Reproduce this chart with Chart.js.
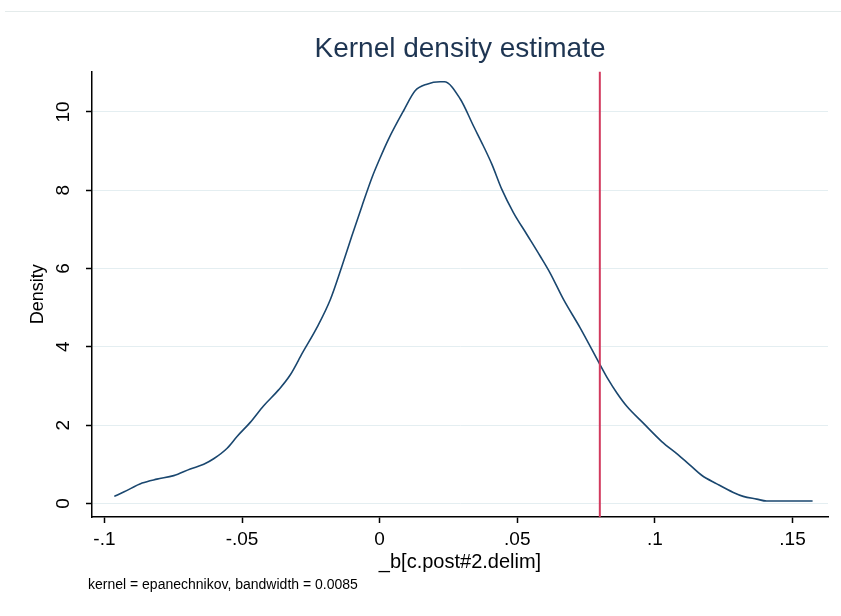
<!DOCTYPE html>
<html>
<head>
<meta charset="utf-8">
<title>Kernel density estimate</title>
<script src="https://cdn.jsdelivr.net/npm/chart.js@4.4.1/dist/chart.umd.min.js"></script>
<style>
  html, body { margin: 0; padding: 0; background: #fff; }
  #wrap { position: relative; width: 841px; height: 616px; overflow: hidden; }
  #topline { position: absolute; left: 5px; right: 0; top: 11px; height: 1px; background: #e4ebeb; }
  #chart { position: absolute; left: 0; top: 0; }
</style>
</head>
<body>
<div id="wrap">
  <div id="topline"></div>
  <canvas id="chart" width="841" height="616"></canvas>
</div>
<script>
// =========================
// DATA
// =========================
const densityX = [
  -0.0964, -0.0930, -0.0863, -0.0809, -0.0748, -0.0688, -0.0639, -0.0603,
  -0.0554, -0.0518, -0.0470, -0.0422, -0.0367, -0.0325, -0.0280, -0.0228,
  -0.0179, -0.0137, -0.0101, -0.0064, -0.0028, 0.0002, 0.0032, 0.0087,
  0.0129, 0.0172, 0.0220, 0.0235, 0.0293, 0.0341, 0.0377, 0.0408,
  0.0444, 0.0486, 0.0535, 0.0583, 0.0619, 0.0668, 0.0728, 0.0801,
  0.0831, 0.0862, 0.0898, 0.0958, 0.1025, 0.1085, 0.1134, 0.1170,
  0.1225, 0.1285, 0.1321, 0.1370, 0.1406, 0.1573
]
const densityY = [
  0.18, 0.29, 0.52, 0.62, 0.71, 0.88, 1.00, 1.14,
  1.41, 1.71, 2.07, 2.49, 2.90, 3.28, 3.85, 4.49,
  5.21, 6.06, 6.83, 7.60, 8.32, 8.83, 9.30, 10.03,
  10.54, 10.71, 10.77, 10.77, 10.33, 9.64, 9.13, 8.66,
  8.02, 7.43, 6.87, 6.32, 5.89, 5.21, 4.49, 3.54,
  3.16, 2.82, 2.48, 2.05, 1.58, 1.24, 0.94, 0.72,
  0.50, 0.28, 0.18, 0.11, 0.06, 0.06
]

const xTickValues = [-0.1, -0.05, 0, 0.05, 0.1, 0.15]
const xTickLabels = ["-.1", "-.05", "0", ".05", ".1", ".15"]
const yTickValues = [0, 2, 4, 6, 8, 10]
const yTickLabels = ["0", "2", "4", "6", "8", "10"]

const xLineValue = 0.08
const xRange = [-0.1045, 0.1629]
const yRange = [-0.347, 11.03]

const titleText = "Kernel density estimate"
const xTitleText = "_b[c.post#2.delim]"
const yTitleText = "Density"
const noteText = "kernel = epanechnikov, bandwidth = 0.0085"

// =========================
// BUILD POINTS
// =========================
const curvePoints = densityX.map((x, i) => ({ x: x, y: densityY[i] }))
const xLinePoints = [
  { x: xLineValue, y: yRange[0] },
  { x: xLineValue, y: yRange[1] }
]

const fontFamily = "'Liberation Sans', Arial, sans-serif"
Chart.defaults.font.family = fontFamily

// note under the x title (Stata "note")
const notePlugin = {
  id: "note",
  afterDraw(chart) {
    const ctx = chart.ctx
    ctx.save()
    ctx.font = "14px " + fontFamily
    ctx.fillStyle = "#000"
    ctx.textBaseline = "middle"
    ctx.textAlign = "left"
    ctx.fillText(noteText, 88, 585)
    ctx.restore()
  }
}

// =========================
// CHART
// =========================
const ctx = document.getElementById("chart")

new Chart(ctx, {
  type: "scatter",
  data: {
    datasets: [
      {
        label: "xline",
        data: xLinePoints,
        showLine: true,
        borderColor: "#d23a5e",
        borderWidth: 2,
        pointRadius: 0
      },
      {
        label: "density",
        data: curvePoints,
        showLine: true,
        borderColor: "#1a476f",
        borderWidth: 1.6,
        pointRadius: 0,
        cubicInterpolationMode: "monotone"
      }
    ]
  },
  options: {
    responsive: false,
    animation: false,
    layout: { padding: { left: 0, right: 13, top: 0, bottom: 40 } },
    plugins: {
      legend: { display: false },
      tooltip: { enabled: false },
      title: {
        display: true,
        text: titleText,
        color: "#1e3552",
        fullSize: false,
        font: { size: 28, weight: "normal" },
        padding: { top: 32, bottom: 6 }
      }
    },
    scales: {
      x: {
        type: "linear",
        position: "bottom",
        min: xRange[0],
        max: xRange[1],
        afterBuildTicks: s => { s.ticks = xTickValues.map(v => ({ value: v })) },
        afterFit: s => { s.height = 59 },
        ticks: {
          color: "#000",
          font: { size: 19 },
          padding: 5,
          autoSkip: false,
          maxRotation: 0,
          callback: (v, i) => xTickLabels[i]
        },
        grid: {
          drawOnChartArea: false,
          drawTicks: true,
          tickLength: 6,
          tickColor: "#000",
          tickWidth: 1.5
        },
        border: { color: "#000", width: 1.5 },
        title: {
          display: true,
          text: xTitleText,
          color: "#000",
          font: { size: 20 },
          padding: 2
        }
      },
      y: {
        type: "linear",
        min: yRange[0],
        max: yRange[1],
        afterBuildTicks: s => { s.ticks = yTickValues.map(v => ({ value: v })) },
        afterFit: s => { s.width = 92 },
        ticks: {
          color: "#000",
          font: { size: 19 },
          padding: 12,
          autoSkip: false,
          minRotation: 90,
          maxRotation: 90,
          crossAlign: "center",
          callback: (v, i) => yTickLabels[i]
        },
        grid: {
          color: "#e4eef1",
          lineWidth: 1,
          tickColor: "#000",
          tickLength: 6,
          tickWidth: 1.5
        },
        border: { color: "#000", width: 1.5 },
        title: {
          display: true,
          text: yTitleText,
          color: "#000",
          font: { size: 18 },
          padding: 27
        }
      }
    }
  },
  plugins: [notePlugin]
})
</script>
</body>
</html>
